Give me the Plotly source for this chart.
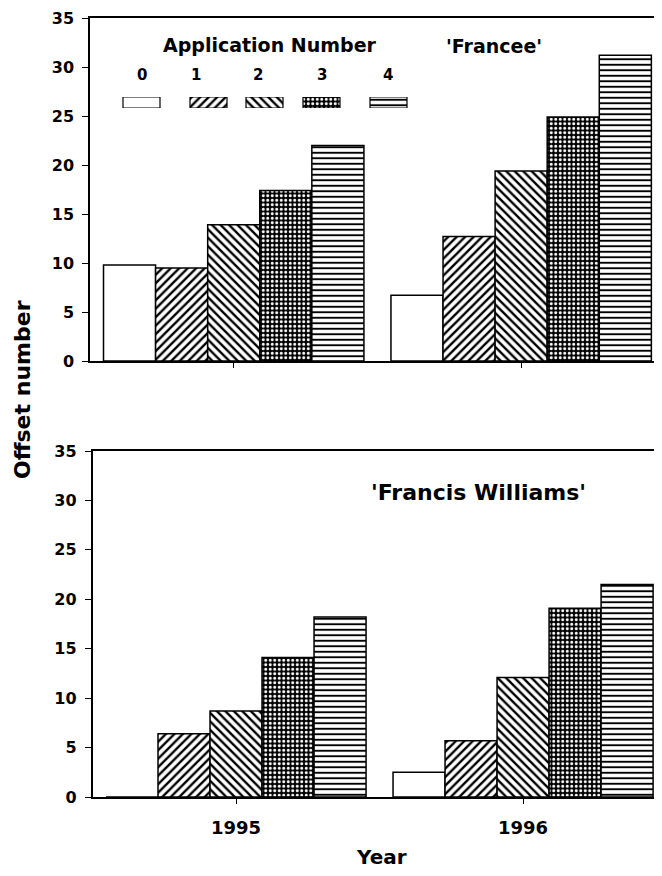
import plotly.graph_objects as go

# ---- data ----
years = ["1995", "1996"]
applications = ["0", "1", "2", "3", "4"]
francee = {
    "1995": [9.8, 9.5, 13.9, 17.4, 22.0],
    "1996": [6.7, 12.7, 19.4, 24.9, 31.2],
}
francis_williams = {
    "1995": [0.0, 6.4, 8.7, 14.1, 18.2],
    "1996": [2.5, 5.7, 12.1, 19.1, 21.5],
}
y_ticks = [0, 5, 10, 15, 20, 25, 30, 35]

# ---- layout / styles ----
OFF = 8                      # page body margin offset
W, H = 662 - OFF, 876 - 2 * OFF
ML, MR, MT, MB = 90 - OFF, 0, 18 - OFF, H - (797 - OFF)
PW, PH = W - ML - MR, H - MT - MB
FONT = "DejaVu Sans"

patterns = [
    dict(shape="", fgcolor="black", bgcolor="white"),
    dict(shape="/", size=6, solidity=0.4, fgcolor="black", bgcolor="white"),
    dict(shape="\\", size=6, solidity=0.4, fgcolor="black", bgcolor="white"),
    dict(shape=".", size=4.5, solidity=0.35, fgcolor="white", bgcolor="black"),
    dict(shape="-", size=5.5, solidity=0.35, fgcolor="black", bgcolor="white"),
]


def px_x(x):
    """reference-screen pixel x -> paper fraction"""
    return (x - OFF - ML) / PW


def px_y(y):
    """reference-screen pixel y -> paper fraction"""
    return (H - MB - (y - OFF)) / PH


fig = go.Figure()

panels = [(francee, "x", "y"), (francis_williams, "x2", "y2")]
for data, xa, ya in panels:
    for i, app in enumerate(applications):
        vals = [data[yr][i] for yr in years]
        fig.add_trace(go.Bar(
            x=years, y=vals, xaxis=xa, yaxis=ya, name=app,
            marker=dict(color="white",
                        line=dict(color="black", width=1.5),
                        pattern=dict(fgopacity=1, fillmode="replace",
                                     **patterns[i])),
            showlegend=False,
        ))

# legend swatches (drawn on a hidden pixel-unit axis)
swatch_x = [141.5, 208.5, 264.5, 321.5, 388.5]
label_x = [142, 196, 258, 322, 388]
for i, app in enumerate(applications):
    fig.add_trace(go.Bar(
        x=[swatch_x[i]], y=[1], width=37, xaxis="x3", yaxis="y3",
        marker=dict(color="white",
                    line=dict(color="black", width=1.2),
                    pattern=dict(fgopacity=1, fillmode="replace", **patterns[i])),
        showlegend=False, hoverinfo="skip",
    ))

axis_common = dict(showline=True, linecolor="black", linewidth=1.5,
                   showgrid=False, zeroline=False)
ytick_font = dict(family=FONT, size=16, color="black", weight="bold")

fig.update_layout(
    width=W, height=H,
    margin=dict(l=ML, r=MR, t=MT, b=MB),
    paper_bgcolor="white", plot_bgcolor="rgba(0,0,0,0)",
    barmode="group", bargap=0.094, bargroupgap=0,
    xaxis=dict(**axis_common, domain=[0, 1], anchor="y", mirror=True,
               range=[-0.5, 1.49], type="category",
               ticks="outside", ticklen=5, tickwidth=1.2, tickcolor="black",
               showticklabels=False),
    yaxis=dict(**axis_common, domain=[px_y(361), 1], anchor="x",
               range=[0, 35], tickvals=y_ticks,
               ticks="outside", ticklen=6, tickwidth=1.2, tickcolor="black",
               tickfont=ytick_font, ticklabelstandoff=5),
    xaxis2=dict(**axis_common, domain=[px_x(92.5), 1], anchor="y2", mirror=True,
                range=[-0.5, 1.484], type="category",
                ticks="outside", ticklen=5, tickwidth=1.2, tickcolor="black",
                tickfont=dict(family=FONT, size=18, color="black", weight="bold"),
                ticklabelstandoff=9),
    yaxis2=dict(**axis_common, domain=[0, px_y(451)], anchor="x2",
                range=[0, 35], tickvals=y_ticks,
                ticks="outside", ticklen=6, tickwidth=1.2, tickcolor="black",
                tickfont=ytick_font, ticklabelstandoff=5),
    xaxis3=dict(visible=False, domain=[0, 1], anchor="y3",
                range=[ML + OFF, W + OFF]),
    yaxis3=dict(visible=False, domain=[px_y(108), px_y(97)], anchor="x3",
                range=[0, 1]),
)

annots = [
    dict(text="Application Number", x=px_x(270), y=px_y(45), size=19),
    dict(text="'Francee'", x=px_x(494), y=px_y(46), size=19),
    dict(text="'Francis Williams'", x=px_x(478), y=px_y(492), size=22),
    dict(text="Year", x=px_x(381), y=px_y(857), size=20),
]
for a in annots:
    fig.add_annotation(text=a["text"], x=a["x"], y=a["y"], xref="paper",
                       yref="paper", showarrow=False, xanchor="center",
                       yanchor="middle",
                       font=dict(family=FONT, size=a["size"], color="black",
                                 weight="bold"))

for i, app in enumerate(applications):
    fig.add_annotation(text=app, x=px_x(label_x[i]), y=px_y(75), xref="paper",
                       yref="paper", showarrow=False, xanchor="center",
                       yanchor="middle",
                       font=dict(family=FONT, size=15, color="black",
                                 weight="bold"))

fig.add_annotation(text="Offset number", x=px_x(22), y=px_y(390), xref="paper",
                   yref="paper", showarrow=False, textangle=-90,
                   xanchor="center", yanchor="middle",
                   font=dict(family=FONT, size=22, color="black", weight="bold"))

fig.write_html("out.html")
